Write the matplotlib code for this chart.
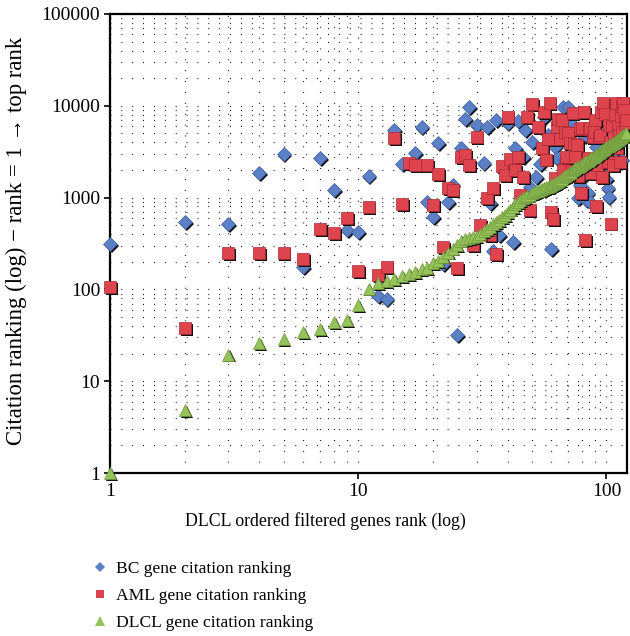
import matplotlib
matplotlib.use("Agg")
import matplotlib.pyplot as plt
import matplotlib.transforms as mtransforms
from matplotlib.lines import Line2D
from matplotlib.ticker import LogLocator, NullFormatter, FixedLocator, FixedFormatter

plt.rcParams['font.family'] = ['Liberation Serif', 'DejaVu Serif']

# DLCL genes, ranks 1..120
dlcl_rank = list(range(1, 121))
dlcl_val = [1, 4.8, 19.5, 26, 28.5, 34, 37, 44, 46, 68,
            102, 118, 122, 130, 140, 146, 155, 165, 172, 192,
            205, 228, 252, 278, 305, 340, 350, 362, 372, 380,
            405, 430, 455, 480, 510, 540, 570, 610, 650, 690,
            740, 790, 850, 900, 940, 980, 1010, 1050, 1080, 1110,
            1140, 1170, 1190, 1210, 1240, 1260, 1290, 1310, 1340, 1370,
            1400, 1440, 1480, 1520, 1560, 1610, 1660, 1710, 1760, 1810,
            1860, 1920, 1980, 2040, 2100, 2140, 2180, 2220, 2270, 2320,
            2370, 2420, 2480, 2530, 2580, 2630, 2690, 2740, 2790, 2850,
            2910, 2980, 3050, 3120, 3190, 3260, 3330, 3400, 3470, 3540,
            3610, 3680, 3750, 3820, 3880, 3930, 3980, 4050, 4130, 4210,
            4290, 4370, 4450, 4530, 4610, 4690, 4770, 4850, 4930, 5000]

# BC citation ranking of the same genes
bc_rank = [1, 2, 3, 4, 5, 6, 7, 8, 9, 10, 11, 12, 13, 14, 15, 17, 18, 19, 20,
           21, 22, 23, 24, 25, 26, 27, 28, 30, 32, 33, 34, 35, 36, 37, 40,
           42, 43, 44, 46, 47, 49, 50, 52, 54, 56, 58, 60, 62, 63, 67, 68,
           70, 72, 74, 76, 77, 78, 80, 81, 83, 84, 86, 88, 89, 91, 93, 95,
           97, 100, 101, 102, 106, 108, 110, 113, 115, 117, 119]
bc_val = [312, 540, 510, 1860, 2985, 175, 2700, 1210, 444, 420, 1720, 85, 78,
          5450, 2320, 3060, 5880, 895, 615, 3930, 189, 895, 1370, 32, 3470,
          7180, 9700, 6170, 2380, 5880, 870, 262, 7000, 390, 6450, 328, 3470,
          6800, 2770, 5450, 1300, 4000, 1680, 2300, 7600, 4800, 276, 3600,
          2700, 9700, 2600, 9700, 6500, 2030, 3140, 990, 1370, 1680, 4700,
          940, 1120, 895, 5000, 1980, 3600, 5800, 3000, 2100, 1600, 1260,
          1010, 5500, 3300, 7500, 9200, 2600, 8000, 6000]

# AML citation ranking of the same genes
aml_rank = [1, 2, 3, 4, 5, 6, 7, 8, 9, 10, 11, 12, 13, 14, 15, 16, 17, 19, 20,
            21, 22, 23, 24, 25, 26, 27, 28, 29, 30, 31, 33, 34, 35, 36, 38,
            39, 40, 41, 43, 44, 45, 46, 48, 49, 50, 53, 55, 56, 57, 58, 59,
            60, 61, 62, 63, 64, 65, 66, 67, 68, 69, 70, 71, 72, 73, 74, 75,
            76, 77, 78, 79, 80, 81, 82, 83, 84, 85, 86, 87, 88, 89, 90, 91,
            92, 93, 94, 95, 96, 97, 99, 100, 101, 102, 103, 104, 105, 106,
            107, 108, 109, 110, 111, 112, 113, 114, 115, 116, 117, 118, 119,
            120]
aml_val = [105, 38, 250, 250, 250, 214, 455, 411, 600, 158, 790, 144, 175,
           4460, 850, 2380, 2260, 2260, 830, 1810, 290, 1270, 1210, 171, 2770,
           2910, 2260, 305, 4570, 505, 990, 390, 1270, 243, 2200, 1760, 7550,
           2620, 2000, 2770, 1060, 1680, 7550, 730, 10500, 5900, 3470, 8500,
           2600, 4300, 10700, 700, 585, 1620, 5900, 7180, 4300, 7000, 2000,
           5200, 2770, 5100, 3900, 1950, 8300, 3800, 2770, 3700, 1700, 5600,
           1120, 5700, 8500, 345, 2260, 2700, 5600, 5700, 1850, 4600, 5200,
           7000, 810, 2260, 4600, 4800, 8500, 1680, 10700, 8200, 3060, 2450,
           6200, 4000, 520, 6000, 2260, 4570, 8000, 10600, 3500, 6000, 4800,
           2420, 7800, 5200, 10000, 10700, 9000, 6500, 7000]

labels = ['BC gene citation ranking', 'AML gene citation ranking',
          'DLCL gene citation ranking']

fig = plt.figure(figsize=(6.3, 6.36), dpi=100)
ax = fig.add_axes([110 / 630, 1 - 473 / 636, 517 / 630, 459 / 636])
ax.set_xscale('log')
ax.set_yscale('log')
ax.set_xlim(1, 121)
ax.set_ylim(1, 100000)

shadow = mtransforms.offset_copy(ax.transData, fig=fig, x=1.3, y=-1.3, units='points')


def draw(x, y, marker, ms, color, edge, z):
    ax.plot(x, y, linestyle='none', marker=marker, ms=ms, color='#111111',
            markeredgewidth=0, transform=shadow, zorder=z, clip_on=False)
    ax.plot(x, y, linestyle='none', marker=marker, ms=ms, color=color,
            markeredgecolor=edge, markeredgewidth=0.5, zorder=z + 0.1, clip_on=False)


draw(bc_rank, bc_val, 'D', 6.8, '#5b80c6', '#3f5f9e', 3)
draw(aml_rank, aml_val, 's', 8.2, '#de444e', '#a82a33', 4)
draw(dlcl_rank, dlcl_val, '^', 8.2, '#95c35a', '#6f9a3c', 5)

# dotted grid on every decade subdivision
grid_style = dict(color='black', linewidth=0.9, linestyle=(0, (0.7, 8.0)))
ax.xaxis.set_minor_locator(LogLocator(base=10, subs=range(2, 10)))
ax.yaxis.set_minor_locator(LogLocator(base=10, subs=range(2, 10)))
ax.xaxis.set_minor_formatter(NullFormatter())
ax.yaxis.set_minor_formatter(NullFormatter())
ax.grid(True, which='both', **grid_style)
ax.set_axisbelow(True)

ax.xaxis.set_major_locator(FixedLocator([1, 10, 100]))
ax.xaxis.set_major_formatter(FixedFormatter(['1', '10', '100']))
ax.yaxis.set_major_locator(FixedLocator([1, 10, 100, 1000, 10000, 100000]))
ax.yaxis.set_major_formatter(FixedFormatter(['1', '10', '100', '1000', '10000', '100000']))
ax.tick_params(which='major', direction='out', length=4, width=1.2, labelsize=14, pad=3)
ax.tick_params(which='minor', length=0)

for s in ax.spines.values():
    s.set_linewidth(1.6)
    s.set_color('black')

ax.set_xlabel('DLCL ordered filtered genes rank (log)', fontsize=12.8)
ax.xaxis.set_label_coords(0.416, -0.086)
ax.set_ylabel('Citation ranking (log) \u2212 rank = 1 \u2192 top rank', fontsize=16.4)
ax.yaxis.set_label_coords(-0.16, 0.505)

handles = [
    Line2D([], [], linestyle='none', marker='D', ms=5, color='#5b80c6', markeredgewidth=0),
    Line2D([], [], linestyle='none', marker='s', ms=6, color='#de444e', markeredgewidth=0),
    Line2D([], [], linestyle='none', marker='^', ms=6.5, color='#95c35a', markeredgewidth=0),
]
fig.legend(handles, labels, loc='upper left', bbox_to_anchor=(84 / 630, 1 - 554 / 636),
           frameon=False, fontsize=12.6, handlelength=1.0, handletextpad=0.45,
           labelspacing=0.62, borderaxespad=0)

fig.savefig('out.png', dpi=100)
